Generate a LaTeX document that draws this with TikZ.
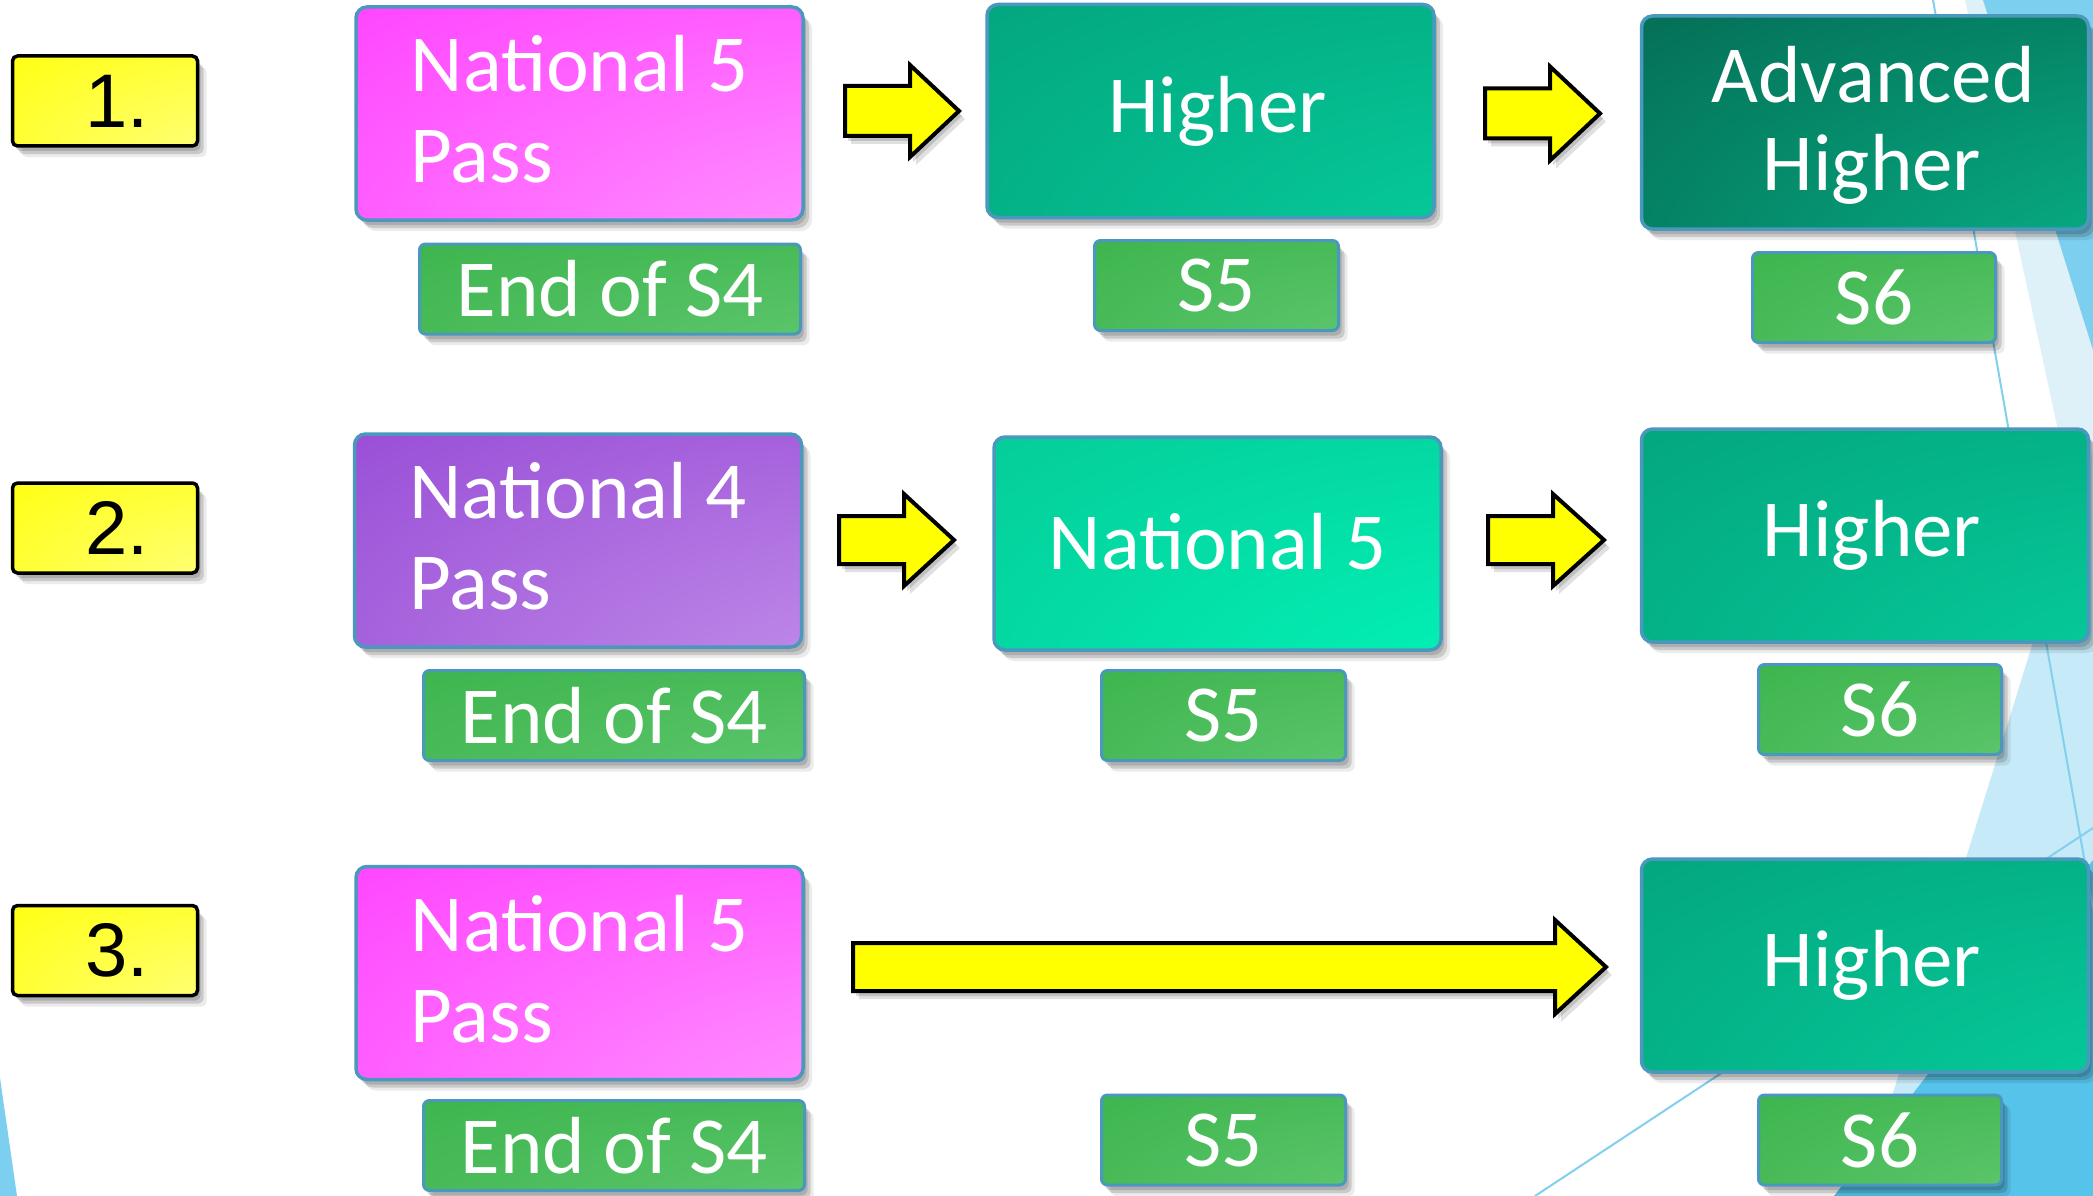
\documentclass[tikz,border=0pt]{standalone}
\usepackage{fontspec}
\setmainfont{Carlito}
\newfontfamily\numfont{Liberation Sans}
\usetikzlibrary{shadows,calc}
\definecolor{bord}{RGB}{74,152,190}
\definecolor{pinkA}{RGB}{255,56,255}
\definecolor{pinkB}{RGB}{255,172,255}
\definecolor{purA}{RGB}{146,68,212}
\definecolor{purB}{RGB}{206,160,238}
\definecolor{tealA}{RGB}{4,160,122}
\definecolor{tealB}{RGB}{5,216,164}
\definecolor{brA}{RGB}{6,198,148}
\definecolor{brB}{RGB}{0,255,192}
\definecolor{dkA}{RGB}{5,100,78}
\definecolor{dkB}{RGB}{6,196,148}
\definecolor{grA}{RGB}{56,178,72}
\definecolor{grB}{RGB}{104,204,120}
\definecolor{ylA}{RGB}{255,255,0}
\definecolor{ylB}{RGB}{255,255,160}
\definecolor{bgpale}{RGB}{222,241,249}
\definecolor{bglight}{RGB}{198,234,247}
\definecolor{bgmid}{RGB}{124,207,238}
\definecolor{bgdeep}{RGB}{86,195,234}
\definecolor{bgline}{RGB}{130,208,238}
\newcommand\cornershade[3]{%
  \pgfdeclareradialshading{#1}{\pgfpoint{50bp}{-50bp}}{%
    color(0bp)=(#3); color(85bp)=(#2); color(170bp)=(#2)}}
\cornershade{shpink}{pinkA}{pinkB}
\cornershade{shpur}{purA}{purB}
\cornershade{shteal}{tealA}{tealB}
\cornershade{shbr}{brA}{brB}
\cornershade{shdk}{dkA}{dkB}
\cornershade{shgr}{grA}{grB}
\cornershade{shyl}{ylA}{ylB}
\newcommand\blockarr[6]{%
  \draw[yarrow] (#1,#4-#5) -- (#2,#4-#5) -- (#2,#4-#6) -- (#3,#4) -- (#2,#4+#6) -- (#2,#4+#5) -- (#1,#4+#5) -- cycle;}
\begin{document}
\begin{tikzpicture}[x=1pt,y=-1pt,
  shad/.style={
    drop shadow={shadow xshift=3pt,shadow yshift=-5pt,opacity=.14,fill=black},
    drop shadow={shadow xshift=6pt,shadow yshift=-8pt,opacity=.14,fill=black},
    drop shadow={shadow xshift=9pt,shadow yshift=-11pt,opacity=.08,fill=black}},
  bigbox/.style={shad,draw=bord,line width=3.5pt,rounded corners=11pt,inner sep=0pt,
    minimum width=447,minimum height=213,text=white,font=\fontsize{81}{91}\selectfont,shade},
  smallbox/.style={shad,draw=bord,line width=3pt,rounded corners=6pt,inner sep=0pt,
    minimum height=90,text=white,font=\fontsize{81}{91}\selectfont,
    shade,shading=shgr},
  numbox/.style={shad,draw=black,line width=3.5pt,rounded corners=5pt,inner sep=0pt,
    minimum width=185,minimum height=90,text=black,font=\numfont\fontsize{76}{80}\selectfont,
    shade,shading=shyl},
  pinkbox/.style={shading=shpink},
  purbox/.style={shading=shpur},
  tealbox/.style={shading=shteal},
  brbox/.style={shading=shbr},
  dkbox/.style={shading=shdk},
  yarrow/.style={fill=ylA,draw=black,line width=4pt,line join=miter,
    drop shadow={shadow xshift=3pt,shadow yshift=-5pt,opacity=.14,fill=black},
    drop shadow={shadow xshift=6pt,shadow yshift=-8pt,opacity=.12,fill=black}},
  bgl/.style={draw=bgline,line width=2pt}
]
\useasboundingbox (0,0) rectangle (2093,1196);
\fill[white] (0,0) rectangle (2093,1196);
% background facets
\fill[bgpale] (1965,0) -- (2093,0) -- (2093,592) -- cycle;
\fill[bgmid] (1983,0) -- (2093,0) -- (2093,350) -- cycle;
\fill[bglight] (2093,449) -- (1861,1196) -- (2093,1196) -- cycle;
\fill[bgdeep] (2093,860) -- (1834,1196) -- (2093,1196) -- cycle;
\fill[bgmid] (0,1078) -- (17,1196) -- (0,1196) -- cycle;
\draw[bgl] (1933,0) -- (2093,909);
\draw[bgl] (1535,1196) -- (2093,828);
% number boxes
\node[numbox] (num1) at (105,101) {\hspace*{24pt}\raisebox{-4pt}{1.}};
\node[numbox] (num2) at (105,528) {\hspace*{24pt}\raisebox{-4pt}{2.}};
\node[numbox] (num3) at (105,950.5) {\hspace*{24pt}\raisebox{-4pt}{3.}};
% row 1
\node[bigbox,pinkbox,align=left,text depth=9pt] (n5a) at (579.5,113.5) {National 5\\Pass};
\node[smallbox,minimum width=381] (e4a) at (610,289) {End of S4};
\node[bigbox,tealbox] (hia) at (1210.5,111) {\hspace*{14pt}\raisebox{2pt}{Higher}};
\node[smallbox,minimum width=244] (s5a) at (1216.5,285.5) {S5};
\node[bigbox,dkbox,align=center,text depth=8pt,font=\fontsize{81}{88}\selectfont] (adv) at (1865,122.5) {\hspace*{16pt}Advanced\\\hspace*{14pt}Higher};
\node[smallbox,minimum width=243] (s6a) at (1874,297.5) {S6};
% row 2
\node[bigbox,purbox,align=left,text depth=9pt] (n4b) at (578,540.5) {National 4\\Pass};
\node[smallbox,minimum width=381] (e4b) at (614,715.5) {End of S4};
\node[bigbox,brbox] (n5b) at (1217.5,543.5) {\raisebox{5pt}{National 5}};
\node[smallbox,minimum width=244] (s5b) at (1223.5,715.5) {S5};
\node[bigbox,tealbox] (hib) at (1865,535.5) {\hspace*{14pt}\raisebox{2pt}{Higher}};
\node[smallbox,minimum width=243] (s6b) at (1880,709.5) {S6};
% row 3
\node[bigbox,pinkbox,align=left,text depth=9pt] (n5c) at (579.5,973) {National 5\\Pass};
\node[smallbox,minimum width=381] (e4c) at (614,1145.5) {End of S4};
\node[smallbox,minimum width=244] (s5c) at (1223.5,1140) {S5};
\node[bigbox,tealbox] (hic) at (1865,965.5) {\hspace*{14pt}\raisebox{2pt}{Higher}};
\node[smallbox,minimum width=243] (s6c) at (1880,1140) {S6};
% block arrows
\blockarr{845}{910}{959}{111}{25}{46}
\blockarr{1485}{1550}{1600}{113.5}{25}{47}
\blockarr{839}{904}{954}{540}{24}{46}
\blockarr{1488}{1553}{1604}{540}{24}{46}
\blockarr{853}{1555}{1606}{967}{24}{47}
\end{tikzpicture}
\end{document}
